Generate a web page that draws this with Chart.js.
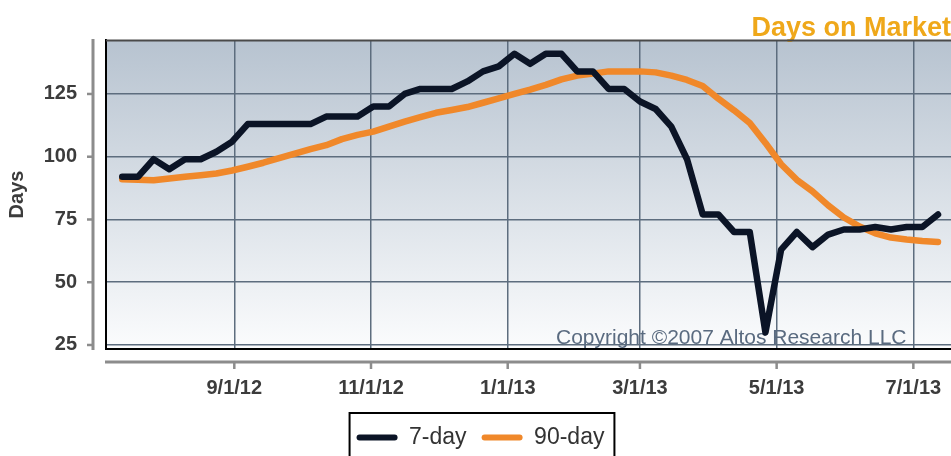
<!DOCTYPE html>
<html>
<head>
<meta charset="utf-8">
<script src="https://cdn.jsdelivr.net/npm/chart.js@4"></script>
<style>
  html, body { margin: 0; padding: 0; background: #ffffff; }
  canvas { display: block; }
</style>
</head>
<body>
<canvas id="c" width="951" height="456"></canvas>
<script>
// ---- data ----
const weekDates = [
  '2012-07-13','2012-07-20','2012-07-27','2012-08-03','2012-08-10','2012-08-17','2012-08-24','2012-08-31',
  '2012-09-07','2012-09-14','2012-09-21','2012-09-28','2012-10-05','2012-10-12','2012-10-19','2012-10-26',
  '2012-11-02','2012-11-09','2012-11-16','2012-11-23','2012-11-30','2012-12-07','2012-12-14','2012-12-21',
  '2012-12-28','2013-01-04','2013-01-11','2013-01-18','2013-01-25','2013-02-01','2013-02-08','2013-02-15',
  '2013-02-22','2013-03-01','2013-03-08','2013-03-15','2013-03-22','2013-03-29','2013-04-05','2013-04-12',
  '2013-04-19','2013-04-26','2013-05-03','2013-05-10','2013-05-17','2013-05-24','2013-05-31','2013-06-07',
  '2013-06-14','2013-06-21','2013-06-28','2013-07-05','2013-07-12'
];
const sevenDay = [
  92, 92, 99, 95, 99, 99, 102, 106, 113, 113, 113, 113, 113, 116, 116, 116,
  120, 120, 125, 127, 127, 127, 130, 134, 136, 141, 137, 141, 141, 134, 134, 127,
  127, 122, 119, 112, 99, 77, 77, 70, 70, 30, 63, 70, 64, 69, 71, 71,
  72, 71, 72, 72, 77
];
const ninetyDay = [
  91, 90.8, 90.6, 91.3, 92, 92.6, 93.3, 94.5, 96, 97.6, 99.4, 101.2, 103, 104.6, 107, 108.7,
  110, 112, 114, 115.8, 117.5, 118.6, 119.8, 121.5, 123.2, 125, 126.7, 128.6, 130.8, 132.3, 133.1, 134,
  134, 134, 133.6, 132.3, 130.6, 128.2, 123.1, 118.5, 113.4, 105.5, 97, 90.8, 86.2, 80.6, 75.8, 72.2,
  69.5, 67.8, 67, 66.4, 66
];
const seriesNames = ['7-day', '90-day'];
const xTickDates = ['2012-09-01','2012-11-01','2013-01-01','2013-03-01','2013-05-01','2013-07-01'];
const xTickLabels = ['9/1/12','11/1/12','1/1/13','3/1/13','5/1/13','7/1/13'];
const yTickValues = [25, 50, 75, 100, 125];
const chartTitle = 'Days on Market';
const yTitle = 'Days';
const copyrightText = 'Copyright \u00A92007 Altos Research LLC';

// ---- helpers ----
const EPOCH = Date.UTC(2012, 8, 1);
function dayOf(s) {
  const [y, m, d] = s.split('-').map(Number);
  return (Date.UTC(y, m - 1, d) - EPOCH) / 86400000;
}
const xTickDays = xTickDates.map(dayOf);
const pts = arr => arr.map((v, i) => ({ x: dayOf(weekDates[i]), y: v }));

Chart.defaults.font.family = "'Liberation Sans', Arial, Helvetica, sans-serif";
Chart.defaults.animation = false;

const FONT = "'Liberation Sans', Arial, Helvetica, sans-serif";
const axisGray = '#8c8c8c';

const framePlugin = {
  id: 'frame',
  beforeDraw(chart) {
    const { ctx, chartArea: a } = chart;
    ctx.save();
    const g = ctx.createLinearGradient(0, a.top, 0, a.bottom);
    g.addColorStop(0, '#b7c3d0');
    g.addColorStop(1, '#fbfcfd');
    ctx.fillStyle = g;
    ctx.fillRect(a.left, a.top, a.right - a.left, a.bottom - a.top);
    ctx.restore();
  },
  beforeDatasetsDraw(chart) {
    const { ctx, chartArea: a } = chart;
    ctx.save();
    ctx.font = '21px ' + FONT;
    ctx.fillStyle = '#5a6b80';
    ctx.textAlign = 'left';
    ctx.textBaseline = 'alphabetic';
    ctx.fillText(copyrightText, a.left + 450, a.bottom - 5);
    ctx.restore();
  },
  afterDraw(chart) {
    const { ctx, chartArea: a, scales } = chart;
    ctx.save();
    // top border of panel
    ctx.strokeStyle = '#4a4a4a';
    ctx.lineWidth = 2;
    ctx.beginPath();
    ctx.moveTo(a.left, a.top + 0.5);
    ctx.lineTo(a.right, a.top + 0.5);
    ctx.stroke();
    // offset y axis
    ctx.strokeStyle = axisGray;
    ctx.lineWidth = 3;
    const ax = a.left - 13;
    ctx.beginPath();
    ctx.moveTo(ax, a.top - 1);
    ctx.lineTo(ax, a.bottom + 1);
    ctx.stroke();
    ctx.lineWidth = 2.5;
    scales.y.ticks.forEach(t => {
      const py = scales.y.getPixelForValue(t.value);
      ctx.beginPath();
      ctx.moveTo(ax - 6, py);
      ctx.lineTo(ax, py);
      ctx.stroke();
    });
    // offset x axis
    ctx.lineWidth = 3;
    const ay = a.bottom + 13;
    ctx.beginPath();
    ctx.moveTo(a.left - 1, ay);
    ctx.lineTo(a.right, ay);
    ctx.stroke();
    ctx.lineWidth = 2.5;
    scales.x.ticks.forEach(t => {
      const px = scales.x.getPixelForValue(t.value);
      ctx.beginPath();
      ctx.moveTo(px, ay);
      ctx.lineTo(px, ay + 7);
      ctx.stroke();
    });
    // legend frame
    const L = chart.legend;
    if (L && L.legendHitBoxes && L.legendHitBoxes.length) {
      const hb = L.legendHitBoxes;
      const last = hb[hb.length - 1];
      const l = hb[0].left - 7;
      const r = last.left + last.width + 10;
      const t = hb[0].top - 13;
      ctx.strokeStyle = '#000';
      ctx.lineWidth = 2;
      ctx.strokeRect(l, t, r - l, 80);
    }
    ctx.restore();
  }
};

new Chart(document.getElementById('c'), {
  type: 'line',
  data: {
    datasets: [
      {
        label: seriesNames[0],
        data: pts(sevenDay),
        borderColor: '#0b1426',
        backgroundColor: '#0b1426',
        borderWidth: 6.5,
        pointRadius: 0,
        borderJoinStyle: 'round',
        borderCapStyle: 'round',
        tension: 0
      },
      {
        label: seriesNames[1],
        data: pts(ninetyDay),
        borderColor: '#f0882a',
        backgroundColor: '#f0882a',
        borderWidth: 6.5,
        pointRadius: 0,
        borderJoinStyle: 'round',
        borderCapStyle: 'round',
        tension: 0
      }
    ]
  },
  options: {
    responsive: false,
    devicePixelRatio: 1,
    layout: { padding: { left: 10, right: 0, top: 0, bottom: -3 } },
    plugins: {
      title: {
        display: true,
        text: chartTitle,
        align: 'end',
        color: '#efa81a',
        font: { size: 27, weight: 'bold' },
        padding: { top: 12, bottom: -4.4 }
      },
      legend: {
        position: 'bottom',
        labels: {
          color: '#333333',
          font: { size: 23 },
          boxWidth: 41,
          boxHeight: 6,
          padding: 15,
          generateLabels(chart) {
            return chart.data.datasets.map((d, i) => ({
              text: d.label,
              fillStyle: d.borderColor,
              strokeStyle: d.borderColor,
              lineWidth: 0,
              hidden: false,
              datasetIndex: i,
              borderRadius: 3,
              fontColor: '#333333'
            }));
          }
        }
      },
      tooltip: { enabled: false }
    },
    scales: {
      x: {
        type: 'linear',
        min: -57.25,
        max: 319.8,
        afterBuildTicks(s) { s.ticks = xTickDays.map(v => ({ value: v })); },
        afterFit(s) { s.height = 62; },
        grid: { color: '#5d6d7e', lineWidth: 1.5, tickLength: 24, tickColor: 'rgba(0,0,0,0)' },
        border: { display: true, color: '#000000', width: 2 },
        ticks: {
          autoSkip: false,
          maxRotation: 0,
          padding: 3,
          color: '#3c3c3c',
          font: { size: 20, weight: 'bold' },
          callback: (v, i) => xTickLabels[i]
        }
      },
      y: {
        min: 23.4,
        max: 146.5,
        afterBuildTicks(s) { s.ticks = yTickValues.map(v => ({ value: v })); },
        afterFit(s) { s.width = 96; },
        grid: { color: '#5d6d7e', lineWidth: 1.5, tickLength: 26, tickColor: 'rgba(0,0,0,0)' },
        border: { display: true, color: '#000000', width: 2 },
        ticks: {
          padding: 3,
          color: '#3c3c3c',
          font: { size: 20, weight: 'bold' }
        },
        title: {
          display: true,
          text: yTitle,
          color: '#3c3c3c',
          font: { size: 20, weight: 'bold' },
          padding: { top: -5, bottom: 0 }
        }
      }
    }
  },
  plugins: [framePlugin]
});
</script>
</body>
</html>
